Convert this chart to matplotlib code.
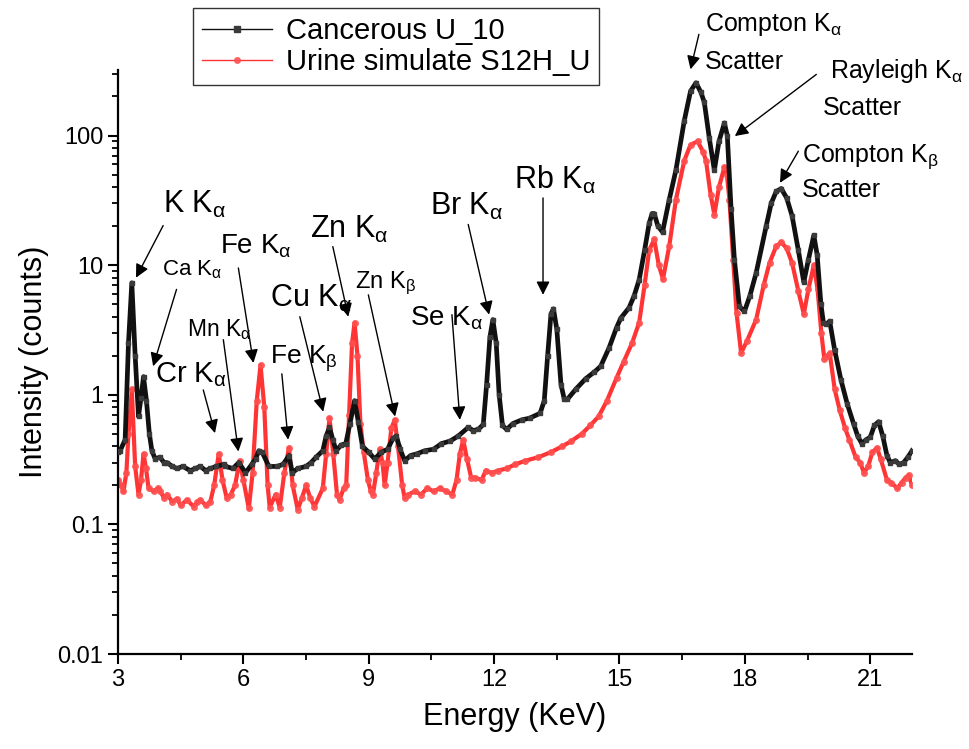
import numpy as np
import matplotlib
matplotlib.use("Agg")
import matplotlib.pyplot as plt

plt.rcParams['font.family'] = ['Liberation Sans', 'DejaVu Sans']
plt.rcParams['mathtext.fontset'] = 'custom'
plt.rcParams['mathtext.rm'] = 'Liberation Sans'
plt.rcParams['mathtext.it'] = 'Liberation Sans'
plt.rcParams['mathtext.bf'] = 'Liberation Sans:bold'

# Cancerous U_10 spectrum (energy in keV, counts)
energy_u10 = [3.00, 3.05, 3.17, 3.25, 3.33, 3.41, 3.49, 3.55, 3.61, 3.68, 3.75, 3.81, 3.89, 4.00,
              4.10, 4.17, 4.30, 4.41, 4.55, 4.73, 4.85, 4.97, 5.10, 5.21, 5.35, 5.53, 5.57, 5.75,
              5.89, 6.05, 6.20, 6.29, 6.37, 6.45, 6.61, 6.80, 6.95, 7.09, 7.17, 7.30, 7.50, 7.62,
              7.74, 7.90, 7.98, 8.06, 8.14, 8.22, 8.34, 8.45, 8.55, 8.66, 8.75, 8.85, 9.00, 9.14,
              9.30, 9.45, 9.58, 9.66, 9.75, 9.86, 10.00, 10.15, 10.34, 10.55, 10.74, 10.95, 11.14,
              11.38, 11.50, 11.62, 11.74, 11.82, 11.90, 11.97, 12.05, 12.12, 12.20, 12.30, 12.45,
              12.66, 12.85, 13.10, 13.20, 13.28, 13.36, 13.42, 13.50, 13.60, 13.68, 13.75, 13.95,
              14.19, 14.40, 14.55, 14.75, 14.93, 15.03, 15.23, 15.35, 15.47, 15.60, 15.71, 15.78,
              15.83, 15.92, 16.03, 16.19, 16.35, 16.55, 16.70, 16.83, 16.95, 17.03, 17.15, 17.27,
              17.38, 17.51, 17.58, 17.67, 17.75, 17.87, 17.99, 18.12, 18.27, 18.51, 18.63, 18.75,
              18.87, 19.00, 19.13, 19.28, 19.41, 19.52, 19.65, 19.73, 19.82, 19.88, 19.95, 20.03,
              20.15, 20.30, 20.45, 20.60, 20.70, 20.80, 20.90, 21.00, 21.10, 21.20, 21.30, 21.40,
              21.48, 21.60, 21.70, 21.80, 21.90, 22.00]
counts_u10 = [0.36, 0.37, 0.45, 2.5, 7.3, 2.0, 0.68, 0.95, 1.38, 0.9, 0.5, 0.37, 0.32, 0.33,
              0.30, 0.30, 0.28, 0.27, 0.28, 0.26, 0.27, 0.28, 0.26, 0.27, 0.28, 0.29, 0.28, 0.27,
              0.30, 0.25, 0.29, 0.32, 0.37, 0.36, 0.28, 0.28, 0.29, 0.34, 0.25, 0.27, 0.28, 0.30,
              0.33, 0.37, 0.48, 0.56, 0.45, 0.37, 0.41, 0.42, 0.60, 0.90, 0.62, 0.40, 0.36, 0.32,
              0.36, 0.38, 0.46, 0.48, 0.38, 0.31, 0.34, 0.35, 0.37, 0.38, 0.42, 0.44, 0.48,
              0.56, 0.53, 0.54, 0.59, 1.2, 2.8, 3.8, 2.5, 1.0, 0.58, 0.54, 0.60,
              0.64, 0.66, 0.72, 0.9, 2.0, 4.2, 4.6, 3.2, 1.2, 0.92, 0.92, 1.1,
              1.33, 1.50, 1.66, 2.3, 3.3, 3.9, 4.7, 5.8, 7.7, 13, 21, 25,
              25, 20, 18, 32, 54, 130, 220, 255, 215, 180, 95, 54,
              90, 125, 100, 27, 11, 4.8, 4.4, 5.8, 8.7, 20, 30, 37,
              39, 33, 24, 13, 7.4, 11, 17, 12, 5.0, 3.6, 3.5, 3.7,
              2.2, 1.3, 0.85, 0.60, 0.48, 0.42, 0.45, 0.47, 0.58, 0.62, 0.48, 0.34,
              0.30, 0.31, 0.29, 0.30, 0.33, 0.37]

# Urine simulate S12H_U spectrum
energy_s12h = [3.00, 3.07, 3.13, 3.20, 3.25, 3.33, 3.41, 3.49, 3.55, 3.61, 3.67, 3.73, 3.85, 3.95,
               4.01, 4.10, 4.17, 4.30, 4.41, 4.50, 4.65, 4.81, 4.90, 4.97, 5.10, 5.21, 5.30, 5.41,
               5.50, 5.60, 5.70, 5.80, 5.91, 6.00, 6.13, 6.22, 6.32, 6.41, 6.50, 6.58, 6.63, 6.77,
               6.87, 6.98, 7.09, 7.18, 7.30, 7.40, 7.50, 7.60, 7.70, 7.90, 7.98, 8.06, 8.15, 8.24,
               8.30, 8.40, 8.46, 8.53, 8.60, 8.66, 8.73, 8.80, 8.88, 8.98, 9.05, 9.10, 9.18, 9.26,
               9.33, 9.38, 9.45, 9.54, 9.62, 9.70, 9.80, 9.86, 9.95, 10.10, 10.25, 10.40, 10.55,
               10.70, 10.85, 11.00, 11.10, 11.18, 11.26, 11.35, 11.45, 11.54, 11.70, 11.80, 11.94,
               12.10, 12.30, 12.50, 12.75, 13.06, 13.35, 13.63, 13.85, 14.10, 14.30, 14.50, 14.70,
               14.93, 15.10, 15.30, 15.47, 15.60, 15.71, 15.83, 15.94, 16.04, 16.19, 16.35, 16.55,
               16.70, 16.87, 17.00, 17.07, 17.18, 17.27, 17.38, 17.51, 17.57, 17.63, 17.72, 17.80,
               17.91, 18.05, 18.27, 18.45, 18.59, 18.75, 18.87, 19.00, 19.13, 19.28, 19.41, 19.52,
               19.65, 19.74, 19.83, 19.90, 19.97, 20.03, 20.15, 20.27, 20.40, 20.50, 20.65, 20.76,
               20.85, 20.95, 21.05, 21.16, 21.25, 21.40, 21.50, 21.65, 21.75, 21.85, 21.92, 22.00]
counts_s12h = [0.22, 0.20, 0.18, 0.25, 0.5, 1.10, 0.28, 0.17, 0.22, 0.35, 0.27, 0.19, 0.18, 0.19,
               0.18, 0.16, 0.17, 0.15, 0.158, 0.14, 0.155, 0.137, 0.15, 0.155, 0.14, 0.15, 0.20, 0.35,
               0.22, 0.16, 0.17, 0.2, 0.31, 0.22, 0.133, 0.25, 0.9, 1.70, 0.8, 0.2, 0.135, 0.17,
               0.135, 0.25, 0.39, 0.2, 0.13, 0.16, 0.20, 0.16, 0.137, 0.19, 0.35, 0.66, 0.35, 0.17,
               0.155, 0.19, 0.20, 0.7, 2.5, 3.6, 2.0, 0.6, 0.36, 0.22, 0.18, 0.17, 0.25, 0.38,
               0.3, 0.2, 0.3, 0.55, 0.64, 0.4, 0.2, 0.16, 0.17, 0.18, 0.17, 0.19, 0.18,
               0.19, 0.18, 0.17, 0.22, 0.35, 0.45, 0.32, 0.23, 0.23, 0.22, 0.26, 0.25,
               0.26, 0.27, 0.29, 0.31, 0.33, 0.36, 0.40, 0.44, 0.50, 0.58, 0.68, 0.9,
               1.35, 1.8, 2.5, 3.6, 7.0, 13, 15.8, 10, 7.8, 14, 32, 64,
               85, 90, 75, 64, 35, 24.5, 40, 57, 50, 32, 11, 4.3,
               2.1, 2.6, 3.8, 7.0, 10.4, 14, 15.0, 13.5, 10.4, 6.3, 4.2, 6.5,
               10.0, 6.5, 3.0, 1.9, 2.0, 2.1, 1.1, 0.76, 0.55, 0.45, 0.33, 0.30,
               0.25, 0.28, 0.36, 0.39, 0.32, 0.22, 0.21, 0.19, 0.21, 0.23, 0.24, 0.20]

series_names = ['Cancerous U_10', 'Urine simulate S12H_U']

fig = plt.figure(figsize=(9.69, 7.49), dpi=100)
ax = fig.add_axes([0.1218, 0.1268, 0.8194, 0.7797])

ax.plot(energy_u10, counts_u10, color='#111111', lw=3.4, marker='s', ms=3.4,
        mfc='#3a3a3a', mec='#3a3a3a', label=series_names[0], zorder=3)
ax.plot(energy_s12h, counts_s12h, color='#ff1010', lw=3.0, marker='o', ms=4.0,
        mfc='#ff5050', mec='#ff5050', alpha=0.85, label=series_names[1], zorder=2)

ax.set_yscale('log')
ax.set_xlim(3, 22)
ax.set_ylim(0.01, 320)
ax.set_xticks([3, 6, 9, 12, 15, 18, 21])
ax.set_xticks(np.arange(4.5, 22, 3), minor=True)
ax.set_yticks([0.01, 0.1, 1, 10, 100])
ax.set_yticklabels(['0.01', '0.1', '1', '10', '100'])
ax.tick_params(which='major', direction='out', length=7, width=1.5, labelsize=17)
ax.tick_params(which='minor', direction='out', length=4, width=1.3)
for side in ['top', 'right']:
    ax.spines[side].set_visible(False)
for side in ['left', 'bottom']:
    ax.spines[side].set_linewidth(1.6)

ax.set_xlabel('Energy (KeV)', fontsize=22, labelpad=8)
ax.set_ylabel('Intensity (counts)', fontsize=22, labelpad=6)

# peak labels: (text, text position, arrow tail, arrow tip, font size)
peaks = [
    (r'K K$_\alpha$', (4.08, 29.3), (4.08, 20.2), (3.43, 8.0), 22),
    (r'Ca K$_\alpha$', (4.05, 9.2), (4.40, 6.5), (3.84, 1.66), 16),
    (r'Cr K$_\alpha$', (3.89, 1.43), (5.04, 1.09), (5.32, 0.506), 21),
    (r'Mn K$_\alpha$', (4.65, 3.18), (5.52, 2.66), (5.88, 0.365), 16.5),
    (r'Fe K$_\alpha$', (5.44, 13.9), (5.88, 9.5), (6.24, 1.76), 20),
    (r'Fe K$_\beta$', (6.64, 1.9), (6.92, 1.45), (7.07, 0.45), 19),
    (r'Cu K$_\alpha$', (6.64, 5.5), (7.35, 4.0), (7.91, 0.74), 22),
    (r'Zn K$_\alpha$', (7.59, 18.8), (8.14, 13.9), (8.51, 4.0), 22),
    (r'Zn K$_\beta$', (8.67, 7.3), (8.99, 5.9), (9.63, 0.68), 17),
    (r'Se K$_\alpha$', (9.99, 3.9), (10.99, 4.15), (11.18, 0.64), 20),
    (r'Br K$_\alpha$', (10.46, 28.3), (11.38, 20.6), (11.88, 4.15), 22),
    (r'Rb K$_\alpha$', (12.47, 45.7), (13.17, 33), (13.17, 5.9), 22),
]
for label, pos, tail, tip, size in peaks:
    ax.text(pos[0], pos[1], label, fontsize=size, ha='left', va='center')
    ax.annotate('', xy=tip, xytext=tail,
                arrowprops=dict(arrowstyle='-|>', color='black', lw=1.0,
                                mutation_scale=20, shrinkA=0, shrinkB=0))

# scatter peaks, two-line labels
scatter = [
    (r'Compton K$_\alpha$', (17.04, 719), (17.04, 366), (16.90, 603), (16.70, 324)),
    (r'Rayleigh K$_\alpha$', (20.03, 312), (19.87, 164), (19.71, 296), (17.76, 99)),
    (r'Compton K$_\beta$', (19.36, 68.9), (19.36, 38.3), (19.28, 75.7), (18.84, 43.2)),
]
for label, pos1, pos2, tail, tip in scatter:
    ax.text(pos1[0], pos1[1], label, fontsize=18, ha='left', va='center', clip_on=False)
    ax.text(pos2[0], pos2[1], 'Scatter', fontsize=18, ha='left', va='center', clip_on=False)
    ax.annotate('', xy=tip, xytext=tail, annotation_clip=False,
                arrowprops=dict(arrowstyle='-|>', color='black', lw=1.0,
                                mutation_scale=20, shrinkA=0, shrinkB=0))

leg = ax.legend(loc='upper left', bbox_to_anchor=(0.199, 0.989),
                bbox_transform=fig.transFigure, fontsize=21, frameon=True,
                fancybox=False, borderaxespad=0, handlelength=2.4,
                borderpad=0.3, labelspacing=0.1, handletextpad=0.5)
leg.get_frame().set_edgecolor('black')
leg.get_frame().set_linewidth(1.0)
for line in leg.get_lines():
    line.set_linewidth(1.0)
    line.set_markersize(4)

fig.savefig('out.png', dpi=100)
